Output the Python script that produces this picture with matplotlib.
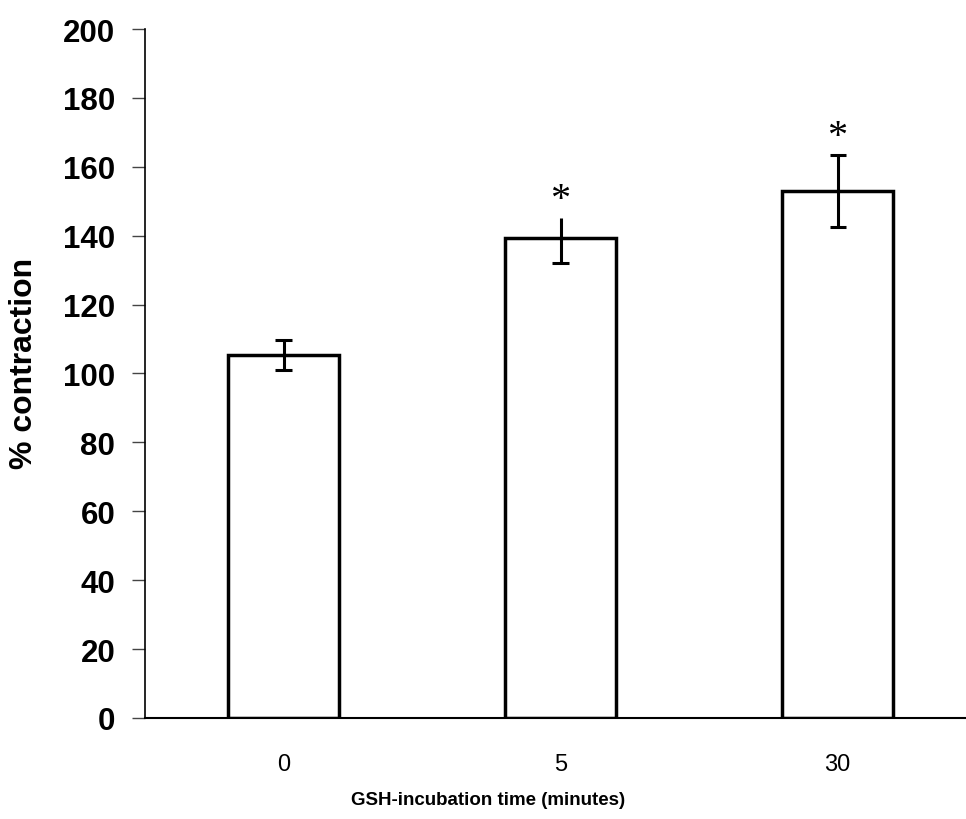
import matplotlib
matplotlib.use('Agg')
import matplotlib.pyplot as plt

# GSH incubation groups and % contraction (mean, error)
times = ['0', '5', '30']
means = [105.4, 139.4, 153.0]
err_low = [4.4, 7.4, 10.5]
err_high = [4.4, 5.7, 10.4]
significant = [False, True, True]
yticks = [0, 20, 40, 60, 80, 100, 120, 140, 160, 180, 200]

plt.rcParams['font.family'] = ['Liberation Sans', 'DejaVu Sans']

fig = plt.figure(figsize=(9.66, 8.2), dpi=100)
ax = fig.add_axes([0.1501, 0.1232, 0.8603, 0.8402])

x = list(range(len(times)))
ax.bar(x, means, width=0.404, color='white', edgecolor='black', linewidth=2.5, zorder=2)

# error bars: vertical line plus caps (the 5 min bar has no top cap)
cap = 0.029
for xi, m, lo, hi in zip(x, means, err_low, err_high):
    ax.vlines(xi, m - lo, m + hi, color='black', linewidth=2.2, zorder=3)
    ax.hlines(m - lo, xi - cap, xi + cap, color='black', linewidth=2.2, zorder=3)
    if xi != 1:
        ax.hlines(m + hi, xi - cap, xi + cap, color='black', linewidth=2.2, zorder=3)

for xi, m, hi, sig in zip(x, means, err_high, significant):
    if sig:
        ax.text(xi, m + hi + 5.5, '*', ha='center', va='center', fontsize=29,
                family=['Liberation Serif', 'DejaVu Serif'], zorder=4)

ax.set_xlim(-0.5, 2.5)
ax.set_ylim(0, 200)
ax.set_yticks(yticks)
ax.set_yticklabels([str(t) for t in yticks], fontsize=22.5, fontweight='bold')
ax.set_xticks(x)
ax.set_xticklabels(times, fontsize=17)

ax.tick_params(axis='y', direction='out', length=9.4, width=1.0, color='#444444', pad=12)
ax.tick_params(axis='x', length=0, pad=25)

for side in ['top', 'right']:
    ax.spines[side].set_visible(False)
ax.spines['left'].set_linewidth(1.2)
ax.spines['bottom'].set_linewidth(1.5)

fig.text(0.025, 0.557, '% contraction', rotation=90, ha='center', va='center',
         fontsize=23, fontweight='bold')
fig.text(0.505, 0.024, 'GSH-incubation time (minutes)', ha='center', va='center',
         fontsize=13.5, fontweight='bold')

fig.savefig('out.png', dpi=100)
